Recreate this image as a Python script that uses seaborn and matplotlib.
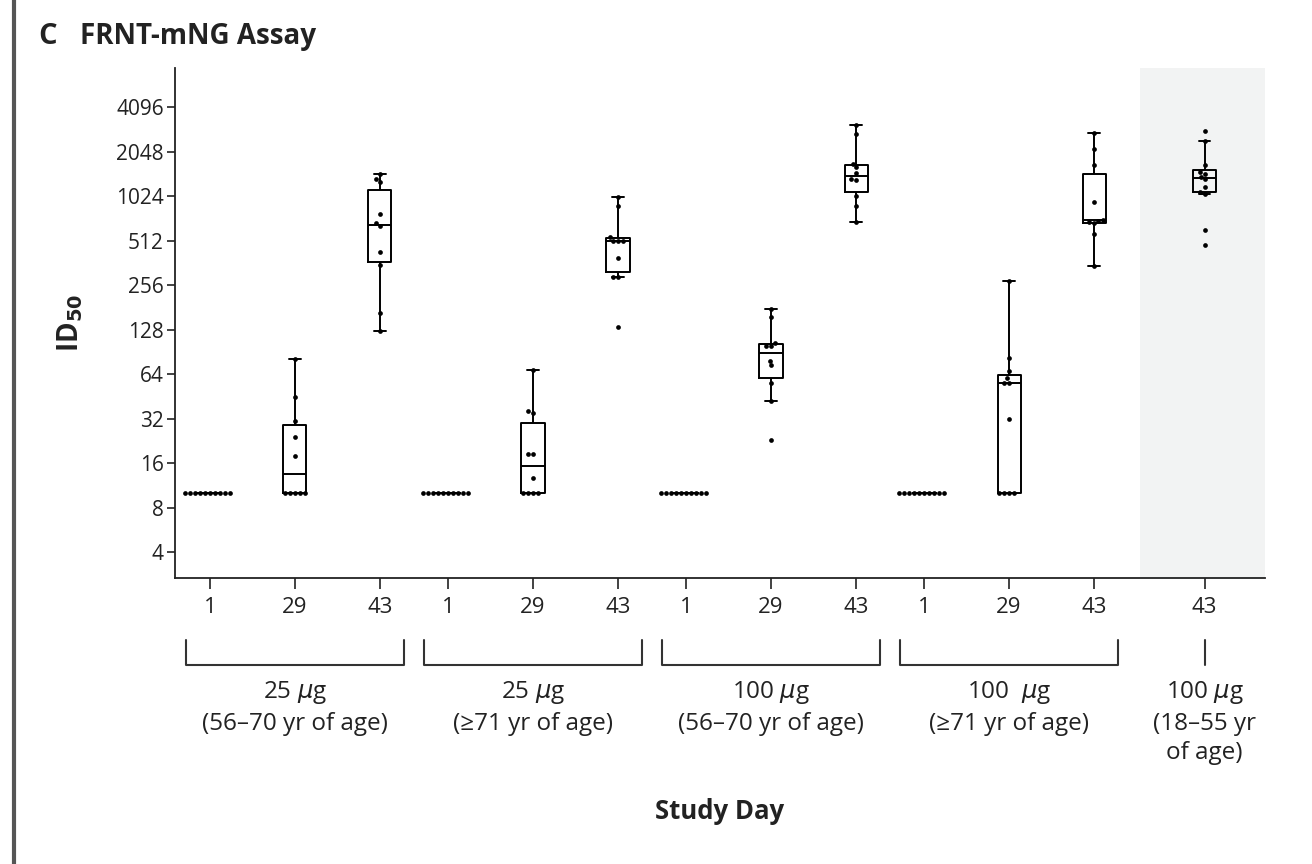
import pandas as pd
import seaborn as sns
import matplotlib.pyplot as plt
from matplotlib.lines import Line2D
from matplotlib.ticker import NullLocator

# ID50 values per participant
lo25_d1 = [10, 10, 10, 10, 10, 10, 10, 10, 10, 10]
lo25_d29 = [10, 10, 10, 10, 10, 18, 24, 31, 45, 81]
lo25_d43 = [125, 167, 352, 428, 643, 671, 776, 1290, 1350, 1450]
hi25_d1 = [10, 10, 10, 10, 10, 10, 10, 10, 10, 10]
hi25_d29 = [10, 10, 10, 10, 12.7, 18.5, 18.5, 35, 36, 68.6]
hi25_d43 = [133, 290, 290, 393, 512, 512, 512, 541, 880, 1017]
lo100_d1 = [10, 10, 10, 10, 10, 10, 10, 10, 10, 10]
lo100_d29 = [23, 42, 56, 73.5, 79, 99, 99, 104, 155, 177]
lo100_d43 = [690, 880, 1024, 1315, 1351, 1468, 1607, 1699, 2702, 3104]
hi100_d1 = [10, 10, 10, 10, 10, 10, 10, 10, 10, 10]
hi100_d29 = [10, 10, 10, 10, 31.6, 56, 56, 60, 67, 82, 274]
hi100_d43 = [347, 570, 671, 685, 700, 710, 933, 1675, 2135, 2740]
young100_d43 = [478, 609, 1060, 1097, 1176, 1333, 1389, 1448, 1499, 1663, 2435, 2817]

days = ["1", "29", "43"]
group_labels = ["25 $\\mu$g\n(56\u201370 yr of age)", "25 $\\mu$g\n(\u226571 yr of age)",
                "100 $\\mu$g\n(56\u201370 yr of age)", "100  $\\mu$g\n(\u226571 yr of age)"]
young_label = "100 $\\mu$g\n(18\u201355 yr\nof age)"
yticks = [4, 8, 16, 32, 64, 128, 256, 512, 1024, 2048, 4096]

series = [lo25_d1, lo25_d29, lo25_d43, hi25_d1, hi25_d29, hi25_d43,
          lo100_d1, lo100_d29, lo100_d43, hi100_d1, hi100_d29, hi100_d43]
step = 2.8
young_pos = 11.7

rows = []
for i, vals in enumerate(series):
    g, d = divmod(i, 3)
    for v in vals:
        rows.append((g * step + d, v))
for v in young100_d43:
    rows.append((young_pos, v))
df = pd.DataFrame(rows, columns=["pos", "val"])

sns.set_style("ticks")
plt.rcParams["font.family"] = ["Open Sans", "DejaVu Sans"]
plt.rcParams["text.color"] = "#222222"
plt.rcParams["axes.labelcolor"] = "#222222"

fig, ax = plt.subplots(figsize=(13.12, 8.64), dpi=100)
fig.subplots_adjust(left=0.1334, right=0.9642, bottom=0.331, top=0.921)

ax.axvspan(10.94, 12.41, color="#f2f3f3", zorder=0, lw=0)

sns.boxplot(data=df, x="pos", y="val", orient="x", native_scale=True, log_scale=(False, 2),
            width=0.34, fill=False, color="black", linewidth=1.4, showfliers=False, ax=ax)
sns.swarmplot(data=df, x="pos", y="val", orient="x", native_scale=True, log_scale=(False, 2),
              color="black", size=3.4, ax=ax)

positions = [g * step + d for g in range(4) for d in range(3)] + [young_pos]
ax.set_xticks(positions)
ax.set_xticklabels(days * 4 + ["43"])
ax.set_xlim(-0.41, 12.41)
ax.set_yticks(yticks)
ax.set_yticklabels([str(t) for t in yticks])
ax.yaxis.set_minor_locator(NullLocator())
ax.set_ylim(2 ** 1.416, 2 ** 12.88)
ax.tick_params(axis="y", length=6, width=1.2, labelsize=15, pad=2, colors="#222222")
ax.tick_params(axis="x", length=8, width=1.2, labelsize=16, pad=6, colors="#222222")
sns.despine(ax=ax)
for s in ["left", "bottom"]:
    ax.spines[s].set_linewidth(1.3)
    ax.spines[s].set_color("#222222")

ax.set_xlabel("")
ax.set_ylabel("ID$_{\\mathbf{50}}$", fontsize=20, fontweight="bold", labelpad=22)

# group brackets under the day ticks
trans = ax.get_xaxis_transform()
for g, label in enumerate(group_labels):
    x0, x1 = g * step - 0.28, g * step + 2.28
    ax.plot([x0, x0, x1, x1], [-0.122, -0.171, -0.171, -0.122], transform=trans,
            clip_on=False, color="#333333", lw=1.5)
    ax.text(g * step + 1, -0.198, label, transform=trans, ha="center", va="top",
            fontsize=17.5, linespacing=1.32)
ax.plot([young_pos, young_pos], [-0.122, -0.171], transform=trans, clip_on=False,
        color="#333333", lw=1.5)
ax.text(young_pos, -0.198, young_label, transform=trans, ha="center", va="top",
        fontsize=17.5, linespacing=1.32)

ax.text(0.5, -0.459, "Study Day", transform=ax.transAxes, ha="center", va="center",
        fontsize=18.5, fontweight="bold")

fig.text(0.029, 0.958, "C", fontsize=21, fontweight="bold", va="center")
fig.text(0.061, 0.958, "FRNT-mNG Assay", fontsize=20, fontweight="bold", va="center")
fig.add_artist(Line2D([0.0105, 0.0105], [0, 1], transform=fig.transFigure, color="#555555", lw=3))

plt.savefig("out.png", dpi=100)
